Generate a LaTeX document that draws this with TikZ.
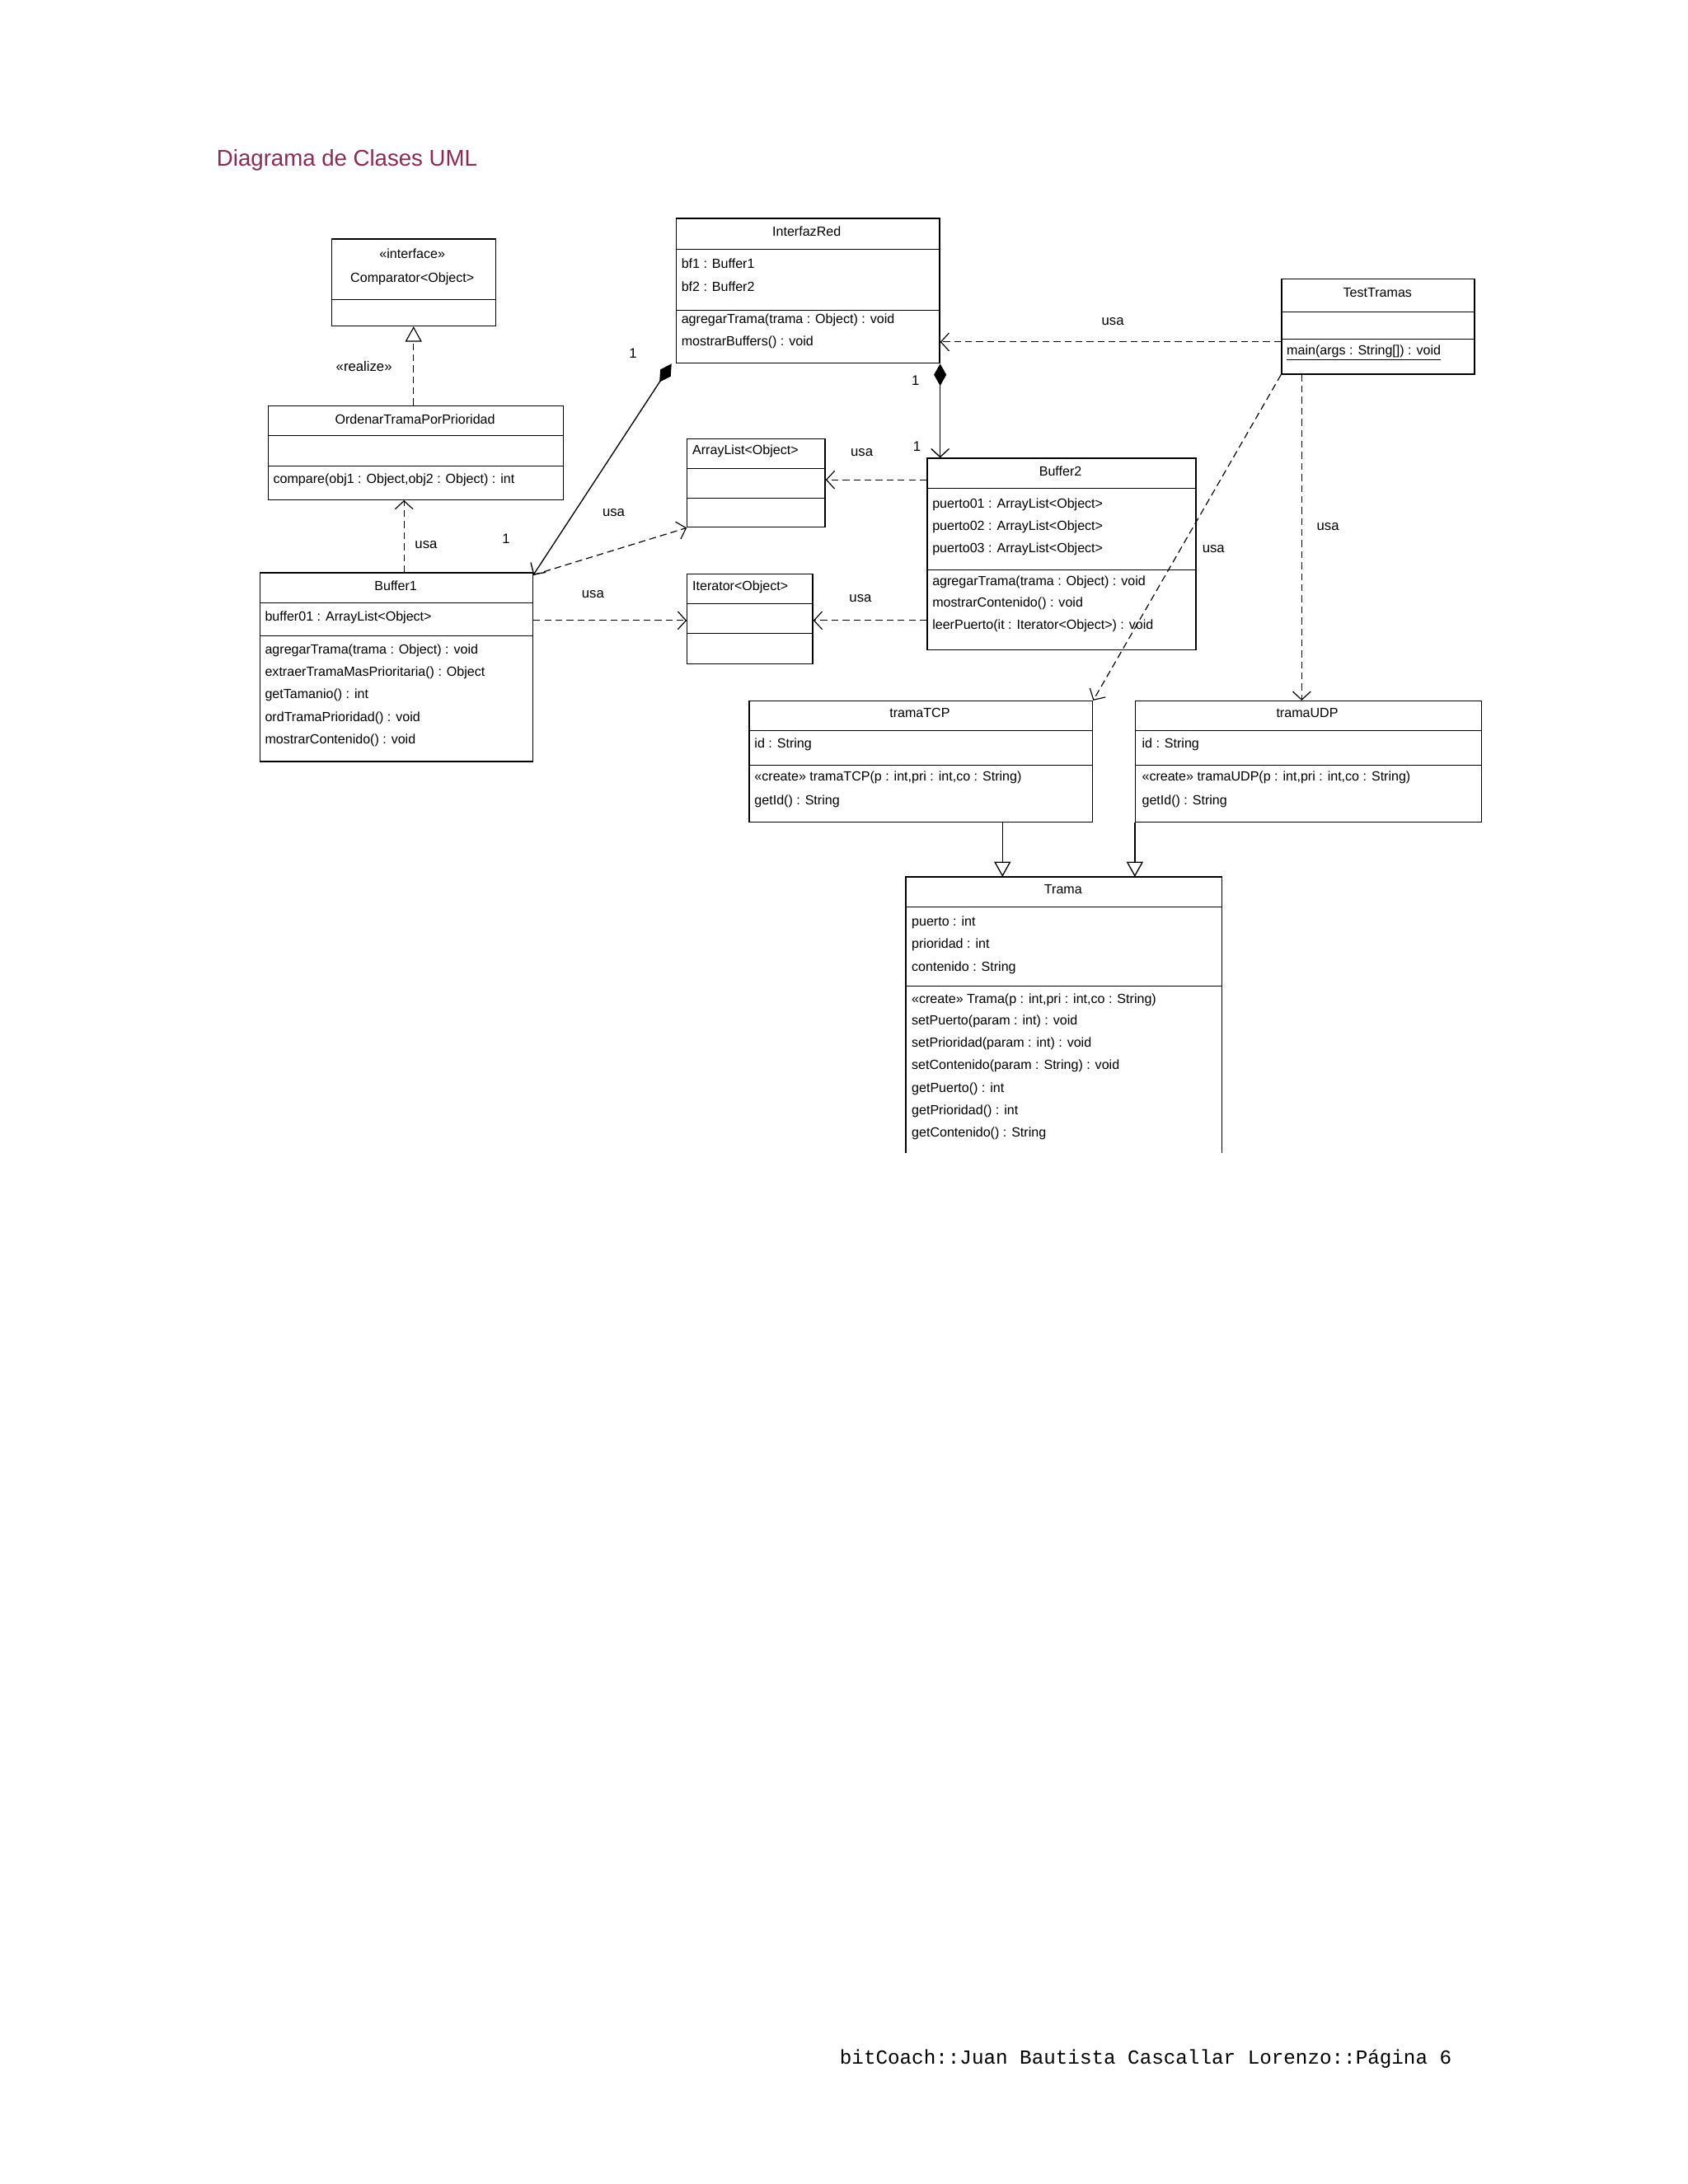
\documentclass[tikz,border=0pt]{standalone}
\usepackage{fontspec}
\setmainfont{Liberation Sans}
\setmonofont{Liberation Mono}
\usetikzlibrary{arrows.meta,calc}
\definecolor{ttl}{HTML}{8E2A55}
\begin{document}
\begin{tikzpicture}[x=1pt,y=-1pt,
  cls/.style={draw,line width=0.8pt,inner sep=0pt,anchor=north west},
  t/.style={anchor=west,inner sep=0pt,font=\fontsize{9.6}{11}\selectfont},
  tc/.style={inner sep=0pt,font=\fontsize{9.6}{11}\selectfont},
  lb/.style={inner sep=0pt,font=\fontsize{10}{12}\selectfont},
  dep/.style={dashed,dash pattern=on 5pt off 3pt,line width=0.7pt,-{Straight Barb[length=6pt,width=13pt]}},
  real/.style={dashed,dash pattern=on 5pt off 3pt,line width=0.7pt,-{Triangle[open,length=11pt,width=12pt]}},
  gen/.style={line width=0.8pt,-{Triangle[open,length=11pt,width=12pt]}},
  comp/.style={line width=0.8pt,{Diamond[length=16pt,width=9pt]}-{Straight Barb[length=6pt,width=13pt]}}]
\fill[white] (0,0) rectangle (1224,1584);
\useasboundingbox (0,0) rectangle (1224,1584);
\node[anchor=west,inner sep=0pt,text=ttl,font=\fontsize{16.5}{19}\selectfont] (title) at (157,116) {Diagrama de Clases UML};
\node[anchor=east,inner sep=0pt,font=\ttfamily\fontsize{14.5}{16}\selectfont] (foot) at (1053,1493) {bitCoach::Juan Bautista Cascallar Lorenzo::Página 6};
% Comparator
\node[cls,minimum width=119,minimum height=63] (cmp) at (240,173) {};
\draw (240,217)--(359,217);
\node[tc] (cmp1) at (299,184) {<<interface>>};
\node[tc] (cmp2) at (299,202) {Comparator<Object>};
% Ordenar
\node[cls,minimum width=214,minimum height=68] (ord) at (194,294) {};
\draw (194,316)--(408,316) (194,338)--(408,338);
\node[tc] (ord1) at (301,304) {OrdenarTramaPorPrioridad};
\node[t] (ord2) at (198,348) {compare(obj1 : Object,obj2 : Object) : int};
% Buffer1
\node[cls,minimum width=198,minimum height=137] (bA) at (188,415) {};
\draw (188,437)--(386,437) (188,461)--(386,461);
\node[tc] (bA0) at (287,425) {Buffer1};
\node[t] (bA1) at (192,448) {buffer01 : ArrayList<Object>};
\node[t] (bA2) at (192,472) {agregarTrama(trama : Object) : void};
\node[t] (bA3) at (192,488) {extraerTramaMasPrioritaria() : Object};
\node[t] (bA4) at (192,504) {getTamanio() : int};
\node[t] (bA5) at (192,521) {ordTramaPrioridad() : void};
\node[t] (bA6) at (192,537) {mostrarContenido() : void};
% InterfazRed
\node[cls,minimum width=191,minimum height=105] (ifr) at (490,158) {};
\draw (490,181)--(681,181) (490,225)--(681,225);
\node[tc] (ifr0) at (585,168) {InterfazRed};
\node[t] (ifr1) at (494,191) {bf1 : Buffer1};
\node[t] (ifr2) at (494,208) {bf2 : Buffer2};
\node[t] (ifr3) at (494,232) {agregarTrama(trama : Object) : void};
\node[t] (ifr4) at (494,248) {mostrarBuffers() : void};
% ArrayList
\node[cls,minimum width=100,minimum height=64] (al) at (498,318) {};
\draw (498,340)--(598,340) (498,361)--(598,361);
\node[t] (al0) at (502,327) {ArrayList<Object>};
% Iterator
\node[cls,minimum width=91,minimum height=65] (it) at (498,416) {};
\draw (498,438)--(589,438) (498,459)--(589,459);
\node[t] (it0) at (502,426) {Iterator<Object>};
% Buffer2
\node[cls,minimum width=195,minimum height=139] (bB) at (672,332) {};
\draw (672,354)--(867,354) (672,413)--(867,413);
\node[tc] (bB0) at (769,342) {Buffer2};
\node[t] (bB1) at (676,366) {puerto01 : ArrayList<Object>};
\node[t] (bB2) at (676,382) {puerto02 : ArrayList<Object>};
\node[t] (bB3) at (676,398) {puerto03 : ArrayList<Object>};
\node[t] (bB4) at (676,422) {agregarTrama(trama : Object) : void};
\node[t] (bB5) at (676,438) {mostrarContenido() : void};
\node[t] (bB6) at (676,454) {leerPuerto(it : Iterator<Object>) : void};
% TestTramas
\node[cls,minimum width=140,minimum height=69] (tt) at (929,202) {};
\draw (929,226)--(1069,226) (929,246)--(1069,246);
\node[tc] (tt0) at (999,212) {TestTramas};
\node[t] (tt1) at (933,256) {\underline{main(args : String[]) : void}};
% tramaTCP
\node[cls,minimum width=249,minimum height=88] (tcp) at (543,508) {};
\draw (543,530)--(792,530) (543,555)--(792,555);
\node[tc] (tcp0) at (667,517) {tramaTCP};
\node[t] (tcp1) at (547,540) {id : String};
\node[t] (tcp2) at (547,564) {<<create>> tramaTCP(p : int,pri : int,co : String)};
\node[t] (tcp3) at (547,581) {getId() : String};
% tramaUDP
\node[cls,minimum width=251,minimum height=88] (udp) at (823,508) {};
\draw (823,530)--(1074,530) (823,555)--(1074,555);
\node[tc] (udp0) at (948,517) {tramaUDP};
\node[t] (udp1) at (828,540) {id : String};
\node[t] (udp2) at (828,564) {<<create>> tramaUDP(p : int,pri : int,co : String)};
\node[t] (udp3) at (828,581) {getId() : String};
% Trama (open bottom)
\coordinate (tr) at (657,636);
\draw[line width=0.8pt] (657,836)--(657,636)--(886,636)--(886,836);
\draw (657,658)--(886,658) (657,715)--(886,715);
\node[tc] (tr0) at (771,645) {Trama};
\node[t] (tr1) at (661,669) {puerto : int};
\node[t] (tr2) at (661,685) {prioridad : int};
\node[t] (tr3) at (661,702) {contenido : String};
\node[t] (tr4) at (661,725) {<<create>> Trama(p : int,pri : int,co : String)};
\node[t] (tr5) at (661,741) {setPuerto(param : int) : void};
\node[t] (tr6) at (661,757) {setPrioridad(param : int) : void};
\node[t] (tr7) at (661,773) {setContenido(param : String) : void};
\node[t] (tr8) at (661,790) {getPuerto() : int};
\node[t] (tr9) at (661,806) {getPrioridad() : int};
\node[t] (tr10) at (661,822) {getContenido() : String};
% connectors
\draw[real] (ord.north -| cmp.south) -- (cmp.south);
\node[lb] at (264,266) {<<realize>>};
\draw[dep] (bA.north -| 293,0) -- (ord.south -| 293,0);
\node[lb] at (309,395) {usa};
\draw[comp] ([xshift=-3pt]ifr.south west) -- ([yshift=-2pt]bA.north east);
\node[lb] at (459,256) {1};
\node[lb] at (367,391) {1};
\draw[dep] ([yshift=-2pt]bA.north east) -- (al.south west);
\node[lb] at (445,372) {usa};
\draw[dep] (bA.east |- 0,450) -- (it.west |- 0,450);
\node[lb] at (430,431) {usa};
\draw[comp] (ifr.south east) -- (bB.north west -| ifr.south east);
\node[lb] at (664,276) {1};
\node[lb] at (665,324) {1};
\draw[dep] (bB.west |- 0,348) -- (al.east |- 0,348);
\node[lb] at (625,328) {usa};
\draw[dep] (bB.west |- 0,450) -- (it.east |- 0,450);
\node[lb] at (624,434) {usa};
\draw[dep] (tt.west |- 0,248) -- (ifr.east |- 0,248);
\node[lb] at (807,233) {usa};
\draw[dep] (tt.south west) -- (tcp.north east);
\node[lb] at (880,398) {usa};
\draw[dep] (tt.south -| 944,0) -- (udp.north -| 944,0);
\node[lb] at (963,382) {usa};
\draw[gen] (tcp.south -| 727,0) -- (tr -| 727,0);
\draw[gen] (udp.south west) -- (tr -| udp.south west);
\end{tikzpicture}
\end{document}
